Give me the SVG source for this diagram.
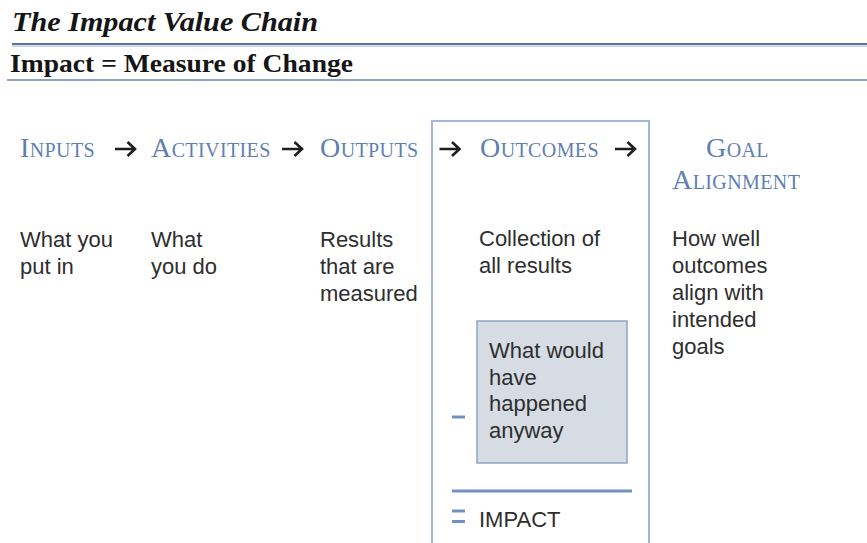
<svg xmlns="http://www.w3.org/2000/svg" width="867" height="543" viewBox="0 0 867 543">
<style>
.title{font-family:"Liberation Serif",serif;font-weight:bold;font-style:italic;fill:#151515}
.sub{font-family:"Liberation Serif",serif;font-weight:bold;fill:#151515}
.head{font-family:"Liberation Serif",serif;fill:#5f7fb3;letter-spacing:0.4px}
.big{font-size:28px}
.sm{font-size:20px}
.body{font-family:"Liberation Sans",Arial,sans-serif;font-size:22px;fill:#2e2e2e}
.arrow{fill:none;stroke:#1e1e1e;stroke-width:2.6}
.op{stroke:#7391be;stroke-width:3;fill:none}
</style>
<defs>
<path id="arr" d="M0,0 H19.5 M12.5,-7 L20,0 L12.5,7"/>
</defs>
<rect width="867" height="543" fill="#ffffff"/>
<g id="header">
<text class="title" x="12" y="31" font-size="28" textLength="306" lengthAdjust="spacingAndGlyphs">The Impact Value Chain</text>
<line x1="12" y1="44" x2="867" y2="44" stroke="#56759f" stroke-width="2"/>
<line x1="12" y1="46.2" x2="867" y2="46.2" stroke="#b3c3dc" stroke-width="1.2"/>
<text class="sub" x="10" y="72" font-size="26" textLength="343" lengthAdjust="spacingAndGlyphs">Impact = Measure of Change</text>
<line x1="7" y1="80" x2="867" y2="80" stroke="#8ea5c9" stroke-width="2"/>
</g>
<g id="inputs">
<text class="head" x="20" y="157"><tspan class="big">I</tspan><tspan class="sm">NPUTS</tspan></text>
<text class="body" x="20" y="247">What you</text>
<text class="body" x="20" y="274">put in</text>
</g>
<g id="activities">
<text class="head" x="151" y="157"><tspan class="big">A</tspan><tspan class="sm">CTIVITIES</tspan></text>
<text class="body" x="151" y="247">What</text>
<text class="body" x="151" y="274">you do</text>
</g>
<g id="outputs">
<text class="head" x="320" y="157"><tspan class="big">O</tspan><tspan class="sm">UTPUTS</tspan></text>
<text class="body" x="320" y="247">Results</text>
<text class="body" x="320" y="274">that are</text>
<text class="body" x="320" y="301">measured</text>
</g>
<g id="outcomes">
<rect x="432" y="121" width="217" height="440" fill="none" stroke="#a3b6d5" stroke-width="2"/>
<text class="head" x="480" y="157"><tspan class="big">O</tspan><tspan class="sm">UTCOMES</tspan></text>
<text class="body" x="479" y="246">Collection of</text>
<text class="body" x="479" y="273">all results</text>
</g>
<g id="counterfactual">
<rect x="477" y="321" width="150" height="142" fill="#d5dce3" stroke="#8ea6c8" stroke-width="1.5"/>
<text class="body" x="489" y="358">What would</text>
<text class="body" x="489" y="384.5">have</text>
<text class="body" x="489" y="411">happened</text>
<text class="body" x="489" y="437.5">anyway</text>
</g>
<g id="impact">
<line class="op" x1="452" y1="417" x2="465" y2="417"/>
<line class="op" x1="452" y1="491" x2="632" y2="491"/>
<line class="op" x1="452" y1="511" x2="465" y2="511"/>
<line class="op" x1="452" y1="521.5" x2="465" y2="521.5"/>
<text class="body" x="479" y="527">IMPACT</text>
</g>
<g id="goal">
<text class="head" x="706" y="157"><tspan class="big">G</tspan><tspan class="sm">OAL</tspan></text>
<text class="head" x="672" y="189"><tspan class="big">A</tspan><tspan class="sm">LIGNMENT</tspan></text>
<text class="body" x="672" y="246">How well</text>
<text class="body" x="672" y="273">outcomes</text>
<text class="body" x="672" y="300">align with</text>
<text class="body" x="672" y="327">intended</text>
<text class="body" x="672" y="354">goals</text>
</g>
<g id="connectors">
<use href="#arr" class="arrow" x="115" y="149"/>
<use href="#arr" class="arrow" x="282" y="149"/>
<use href="#arr" class="arrow" x="439.5" y="149"/>
<use href="#arr" class="arrow" x="615" y="149"/>
</g>
</svg>
